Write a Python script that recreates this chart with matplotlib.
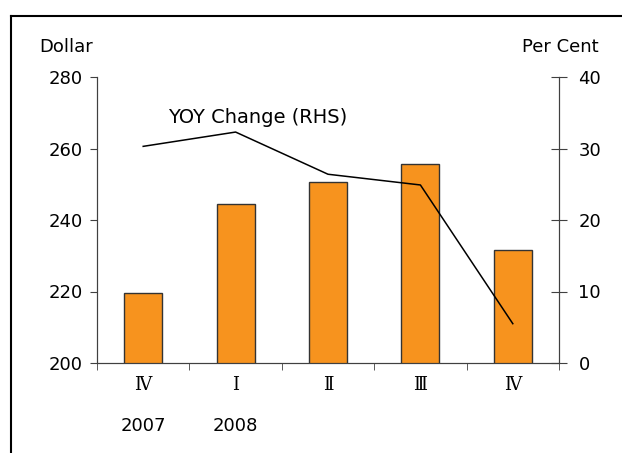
import matplotlib.pyplot as plt
from matplotlib.lines import Line2D

# data
quarters = ['Ⅳ', 'Ⅰ', 'Ⅱ', 'Ⅲ', 'Ⅳ']
years = ['2007', '2008', '', '', '']
price = [219.5, 244.5, 250.5, 255.8, 231.5]     # Dollar, left axis
yoy_change = [30.3, 32.3, 26.4, 24.9, 5.5]      # Per Cent, right axis

plt.rcParams['font.family'] = ['DejaVu Sans']
plt.rcParams['font.size'] = 13

fig = plt.figure(figsize=(6.22, 4.53), dpi=100)
ax = fig.add_axes([97/622, 90/453, 462/622, 286/453])

x = list(range(len(quarters)))
ax.bar(x, price, width=0.41, bottom=0, color='#F7931E', edgecolor='#333333', linewidth=1)
ax.set_xlim(-0.5, len(quarters) - 0.5)
ax.set_ylim(200, 280)
ax.set_yticks([200, 220, 240, 260, 280])

ax2 = ax.twinx()
ax2.plot(x, yoy_change, color='black', linewidth=1.1)
ax2.set_ylim(0, 40)
ax2.set_yticks([0, 10, 20, 30, 40])

for a in (ax, ax2):
    a.spines['top'].set_visible(False)
    for s in a.spines.values():
        s.set_color('#404040')

ax.tick_params(axis='y', direction='out', length=5, color='#404040', pad=5)
ax2.tick_params(axis='y', direction='inout', length=12, color='#404040', pad=8)

# category labels between boundary ticks
ax.set_xticks(x)
ax.set_xticklabels(quarters, family=['DejaVu Serif', 'Noto Sans CJK SC'])
ax.tick_params(axis='x', length=0, pad=9)
ax.set_xticks([i - 0.5 for i in range(len(quarters) + 1)], minor=True)
ax.tick_params(axis='x', which='minor', direction='out', length=5, color='#404040')

for i, yr in enumerate(years):
    if yr:
        ax.text(i, -0.22, yr, transform=ax.get_xaxis_transform(), ha='center', va='center')

ax.text(-0.125, 1.105, 'Dollar', transform=ax.transAxes, ha='left', va='center')
ax2.text(1.085, 1.105, 'Per Cent', transform=ax2.transAxes, ha='right', va='center')
ax2.text(0.154, 0.86, 'YOY Change (RHS)', transform=ax2.transAxes, ha='left', va='center',
         fontsize=14)

# outer frame (top and left edges visible)
fig.add_artist(Line2D([11/622, 11/622], [0, 1 - 16/453], color='black', linewidth=1.5))
fig.add_artist(Line2D([11/622, 1], [1 - 16/453, 1 - 16/453], color='black', linewidth=1.5))

fig.savefig('out.png', dpi=100)
